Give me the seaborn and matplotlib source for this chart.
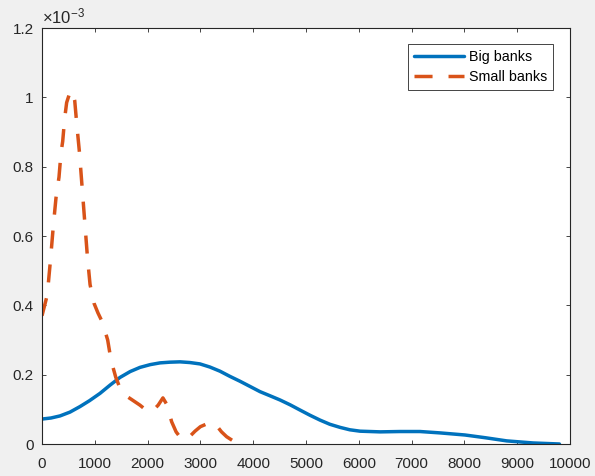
import numpy as np
import pandas as pd
import matplotlib
matplotlib.use("Agg")
import matplotlib.pyplot as plt
from matplotlib.ticker import FuncFormatter
import seaborn as sns

# density curves (y in units of 1e-3)
big_x = [0, 170, 341, 530, 720, 900, 1098, 1290, 1477, 1670, 1856, 2050,
         2235, 2420, 2614, 2800, 2992, 3180, 3371, 3560, 3750, 3940, 4129,
         4320, 4508, 4700, 4886, 5075, 5265, 5450, 5644, 5830, 6023, 6402,
         6780, 7159, 7540, 8010, 8400, 8800, 9300, 9800]
big_y = [0.072, 0.075, 0.081, 0.092, 0.108, 0.125, 0.146, 0.170, 0.192, 0.209,
         0.221, 0.229, 0.234, 0.236, 0.237, 0.235, 0.231, 0.222, 0.210, 0.195,
         0.181, 0.166, 0.151, 0.139, 0.127, 0.113, 0.098, 0.083, 0.069, 0.057,
         0.048, 0.041, 0.037, 0.035, 0.036, 0.036, 0.032, 0.026, 0.018, 0.009,
         0.003, 0.000]

small_x = [0, 100, 160, 215, 265, 322, 360, 392, 430, 467, 520, 570, 620, 660,
           710, 760, 810, 860, 910, 985, 1060, 1142, 1244, 1307, 1396, 1480,
           1572, 1700, 1856, 1970, 2078, 2200, 2290, 2360, 2456, 2540, 2614,
           2700, 2800, 2898, 3000, 3182, 3280, 3400, 3497, 3650, 3780]
small_y = [0.370, 0.430, 0.530, 0.630, 0.710, 0.770, 0.840, 0.873, 0.940, 0.985,
           1.010, 1.020, 0.990, 0.920, 0.840, 0.740, 0.640, 0.540, 0.460, 0.406,
           0.378, 0.352, 0.300, 0.242, 0.193, 0.160, 0.141, 0.128, 0.112, 0.098,
           0.093, 0.112, 0.133, 0.115, 0.064, 0.035, 0.020, 0.012, 0.022, 0.037,
           0.050, 0.062, 0.058, 0.035, 0.021, 0.006, 0.000]

labels = ["Big banks", "Small banks"]
x_ticks = np.arange(0, 10001, 1000)
y_ticks = np.arange(0, 1.21, 0.2) * 1e-3

big = pd.DataFrame({"x": big_x, "density": np.array(big_y) * 1e-3})
small = pd.DataFrame({"x": small_x, "density": np.array(small_y) * 1e-3})

sns.set_style("ticks")
plt.rcParams["font.family"] = ["Liberation Sans", "DejaVu Sans"]
plt.rcParams["mathtext.fontset"] = "custom"
plt.rcParams["mathtext.rm"] = "Liberation Sans"

axis_col = "#262626"
fig = plt.figure(figsize=(5.95, 4.76), dpi=100, facecolor="#f0f0f0")
ax = fig.add_axes([42 / 595, 1 - 444 / 476, 528 / 595, 416 / 476])
ax.set_facecolor("white")

sns.lineplot(data=big, x="x", y="density", ax=ax, color="#0072BD",
             linewidth=2.5, label=labels[0])
sns.lineplot(data=small, x="x", y="density", ax=ax, color="#D95319",
             linewidth=2.5, linestyle=(0, (5.2, 4.6)), label=labels[1])

ax.set_xlim(0, 10000)
ax.set_ylim(0, 1.2e-3)
ax.set_xticks(x_ticks)
ax.set_yticks(y_ticks)
ax.yaxis.set_major_formatter(FuncFormatter(lambda v, p: f"{v * 1e3:g}"))
ax.set_xlabel("")
ax.set_ylabel("")

for s in ax.spines.values():
    s.set_visible(True)
    s.set_color(axis_col)
    s.set_linewidth(0.8)
ax.tick_params(direction="in", length=3, width=0.6, color=axis_col,
               labelcolor=axis_col, labelsize=11, top=True, right=True)
ax.tick_params(axis="x", pad=9)
ax.tick_params(axis="y", pad=6)

ax.text(0.0, 1.004, r"$\times\mathregular{10^{-3}}$", transform=ax.transAxes,
        ha="left", va="bottom", fontsize=12, color=axis_col)

leg = ax.legend(loc="upper right", bbox_to_anchor=(0.968, 0.9615),
                borderaxespad=0, fontsize=10.3, handlelength=3.5,
                handletextpad=0.35, labelspacing=0.45, borderpad=0.4,
                fancybox=False, framealpha=1, edgecolor=axis_col)
leg.get_frame().set_linewidth(0.6)
for t in leg.get_texts():
    t.set_color("black")

fig.savefig("out.png", dpi=100, facecolor=fig.get_facecolor())
